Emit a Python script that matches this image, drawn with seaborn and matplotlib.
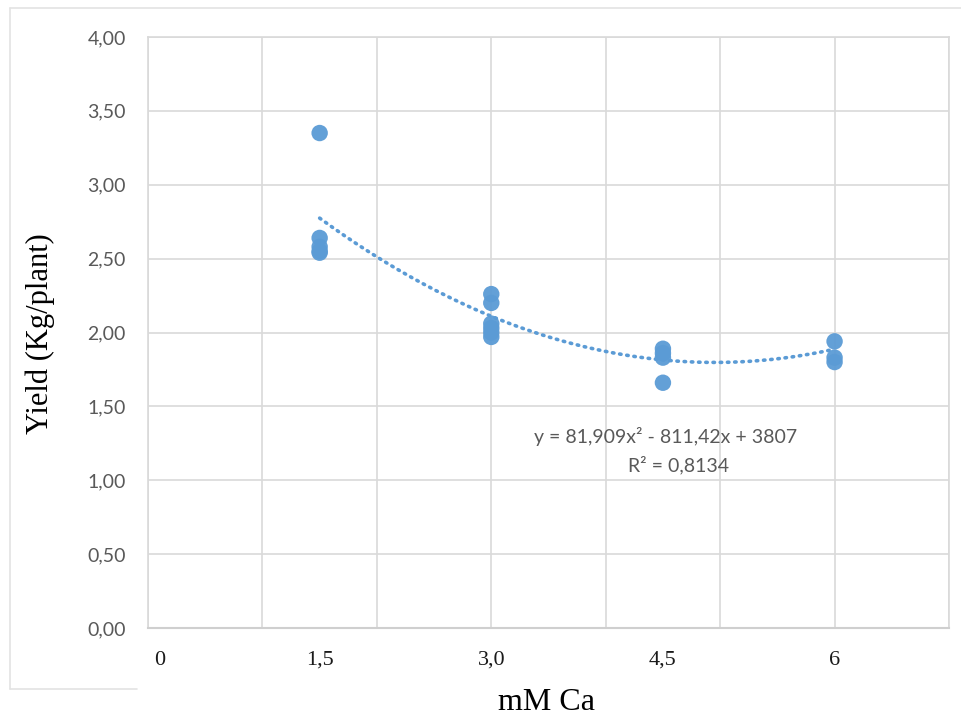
import numpy as np
import pandas as pd
import seaborn as sns
import matplotlib.pyplot as plt
from matplotlib.lines import Line2D
import matplotlib.transforms as mtransforms

# ---- data ----
ca_levels = [1.5, 1.5, 1.5, 1.5, 1.5,
             3.0, 3.0, 3.0, 3.0, 3.0, 3.0,
             4.5, 4.5, 4.5, 4.5,
             6.0, 6.0, 6.0]
yield_kg = [3.35, 2.64, 2.58, 2.55, 2.54,
            2.26, 2.20, 2.06, 2.03, 2.00, 1.97,
            1.89, 1.86, 1.83, 1.66,
            1.94, 1.83, 1.80]
# trendline coefficients shown on the chart (grams), converted to kg
trend_coef_g = [81.909, -811.42, 3807]
x_tick_values = [0, 1.5, 3.0, 4.5, 6]
x_tick_labels = ["0", "1,5", "3,0", "4,5", "6"]
y_tick_values = [0, 0.5, 1.0, 1.5, 2.0, 2.5, 3.0, 3.5, 4.0]
y_tick_labels = ["0,00", "0,50", "1,00", "1,50", "2,00", "2,50", "3,00", "3,50", "4,00"]
eq_text = "y = 81,909x² - 811,42x + 3807"
r2_text = "R² = 0,8134"

df = pd.DataFrame({"ca": ca_levels, "yield": yield_kg})
xs = np.linspace(min(ca_levels), max(ca_levels), 200)
trend = pd.DataFrame({"ca": xs, "yield": np.polyval(trend_coef_g, xs) / 1000.0})

sns.set_theme(style="white")
plt.rcParams["font.family"] = ["Lato", "DejaVu Sans"]

blue = "#5B9BD5"
grid_c = "#D9D9D9"
text_gray = "#595959"

fig = plt.figure(figsize=(9.61, 7.19), dpi=100)
ax = fig.add_axes([148 / 961, 1 - 628 / 719, 801 / 961, 591 / 719])

sns.lineplot(data=trend, x="ca", y="yield", ax=ax, color=blue, lw=2.6,
             linestyle=(0, (0.4, 1.6)), dash_capstyle="round", zorder=3)
sns.scatterplot(data=df, x="ca", y="yield", ax=ax, color=blue, s=140,
                edgecolor="none", alpha=0.95, zorder=4)

ax.set_xlim(0, 7)
ax.set_ylim(0, 4)
ax.set_xticks(np.arange(0, 8, 1))
ax.set_yticks(y_tick_values)
ax.grid(True, color=grid_c, lw=1.2, zorder=0)
ax.set_axisbelow(True)
for s in ["top", "right", "left"]:
    ax.spines[s].set_color(grid_c)
    ax.spines[s].set_linewidth(1.2)
ax.spines["bottom"].set_color("#CFCFCF")
ax.spines["bottom"].set_linewidth(1.5)
ax.tick_params(axis="both", length=0)
ax.set_yticklabels(y_tick_labels, fontsize=14, color=text_gray)
ax.tick_params(axis="y", pad=16)
ax.set_xticklabels([])
ax.set_xlabel("")
ax.set_ylabel("")

# x category labels (serif, below plot)
for v, lab in zip(x_tick_values, x_tick_labels):
    t = ax.text(v, -0.22, lab, ha="center", va="center", fontsize=16,
                family=["Liberation Serif"], color="#1a1a1a", transform=ax.transData)
    if v == 0:
        t.set_transform(ax.transData + mtransforms.ScaledTranslation(12 / 100, 0, fig.dpi_scale_trans))

fig.text(547 / 961, 1 - 703 / 719, "mM Ca", ha="center", va="center",
         fontsize=23, family=["Liberation Serif"], color="black")
fig.text(40 / 961, 1 - 334 / 719, "Yield (Kg/plant)", ha="center", va="center",
         rotation=90, fontsize=22, family=["Liberation Serif"], color="black")

ax.text(666 / 961, 1 - 437 / 719, eq_text, transform=fig.transFigure,
        ha="center", va="center", fontsize=14, color=text_gray)
ax.text(679 / 961, 1 - 465 / 719, r2_text, transform=fig.transFigure,
        ha="center", va="center", fontsize=14, color=text_gray)

# partial outer chart frame
frame_c = "#E3E3E3"
fig.add_artist(Line2D([10 / 961, 1.0], [1 - 8 / 719, 1 - 8 / 719], color=frame_c, lw=1.2,
                      transform=fig.transFigure))
fig.add_artist(Line2D([10 / 961, 10 / 961], [1 - 8 / 719, 1 - 689 / 719], color=frame_c, lw=1.2,
                      transform=fig.transFigure))
fig.add_artist(Line2D([10 / 961, 137 / 961], [1 - 689 / 719, 1 - 689 / 719], color=frame_c, lw=1.2,
                      transform=fig.transFigure))

fig.savefig("out.png", dpi=100, facecolor="white")
